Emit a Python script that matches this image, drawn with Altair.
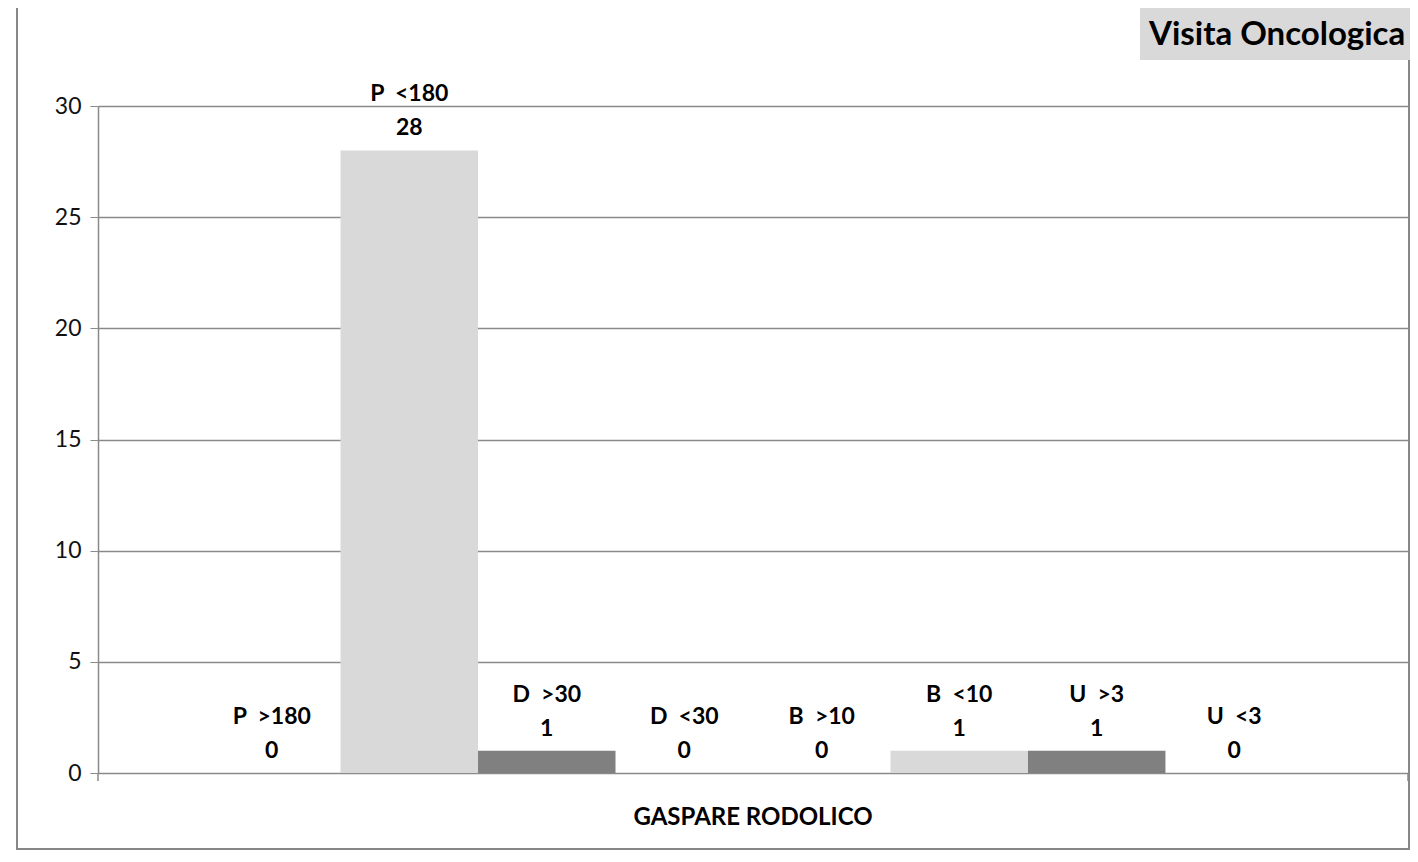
import altair as alt
import pandas as pd

category = "GASPARE RODOLICO"
series = ["P\u00a0\u00a0>180", "P\u00a0\u00a0<180", "D\u00a0\u00a0>30", "D\u00a0\u00a0<30",
          "B\u00a0\u00a0>10", "B\u00a0\u00a0<10", "U\u00a0\u00a0>3", "U\u00a0\u00a0<3"]
values = [0, 28, 1, 0, 0, 1, 1, 0]
colors = ["#808080", "#d9d9d9", "#808080", "#d9d9d9", "#808080", "#d9d9d9", "#808080", "#d9d9d9"]
y_ticks = [0, 5, 10, 15, 20, 25, 30]
chart_title = "Visita Oncologica"

FONT = "Lato"
GRID = "#8a8a8a"
W, H = 1310, 667

df = pd.DataFrame({"cat": [category] * len(series), "series": series, "value": values})
deco = pd.DataFrame({"t": [chart_title]})

x_enc = alt.X("cat:N", scale=alt.Scale(paddingInner=0, paddingOuter=0.0955),
              axis=alt.Axis(title=None, labelAngle=0, labelFont=FONT, labelFontWeight="bold",
                            labelFontSize=24, labelColor="#000000", labelPadding=32,
                            labelLimit=0, ticks=False, domain=True, domainColor=GRID, grid=False))
xo_enc = alt.XOffset("series:N", sort=series, scale=alt.Scale(paddingInner=0, paddingOuter=0))
y_enc = alt.Y("value:Q", scale=alt.Scale(domain=[0, 30], nice=False),
              axis=alt.Axis(values=y_ticks, title=None, grid=True, gridColor=GRID, gridWidth=1.3,
                            domainColor=GRID, domainWidth=1.5, tickColor=GRID, tickSize=8,
                            labelFont=FONT, labelFontSize=23, labelColor="#111111",
                            labelPadding=9))

base = alt.Chart(df)

bars = base.mark_bar().encode(
    x=x_enc, xOffset=xo_enc, y=y_enc,
    color=alt.Color("series:N", scale=alt.Scale(domain=series, range=colors), legend=None),
)

value_txt = base.mark_text(
    baseline="alphabetic", dy=-15, font=FONT, fontSize=23, fontWeight="bold", color="#000000",
).encode(x=x_enc, xOffset=xo_enc, y=y_enc, text="value:Q")

series_txt = base.mark_text(
    baseline="alphabetic", dy=-49, font=FONT, fontSize=23, fontWeight="bold", color="#000000",
).encode(x=x_enc, xOffset=xo_enc, y=y_enc, text="series:N")

dchart = alt.Chart(deco)
border = dchart.mark_rect(filled=False, stroke="#878787", strokeWidth=2).encode(
    x=alt.value(-81), x2=alt.value(1311), y=alt.value(-99), y2=alt.value(H + 76)
)
title_box = dchart.mark_rect(fill="#d9d9d9").encode(
    x=alt.value(1042), x2=alt.value(1320), y=alt.value(-98), y2=alt.value(-46)
)
title_txt = dchart.mark_text(
    align="left", baseline="middle", font=FONT, fontSize=33, fontWeight="bold", color="#000000"
).encode(x=alt.value(1051), y=alt.value(-71), text="t:N")
tick_l = dchart.mark_rule(color=GRID, strokeWidth=1.5).encode(
    x=alt.value(0), y=alt.value(H), y2=alt.value(H + 8)
)
tick_r = dchart.mark_rule(color=GRID, strokeWidth=1.5).encode(
    x=alt.value(W), y=alt.value(H), y2=alt.value(H + 8)
)

chart = alt.layer(border, title_box, title_txt, bars, value_txt, series_txt, tick_l, tick_r).properties(
    width=W, height=H,
    padding={"left": 90, "top": 98, "right": 2, "bottom": 78},
    autosize=alt.AutoSizeParams(type="none"),
).configure_view(stroke=None).configure(background="#ffffff")

chart.save("out.html", embed_options={"renderer": "svg", "actions": False})
